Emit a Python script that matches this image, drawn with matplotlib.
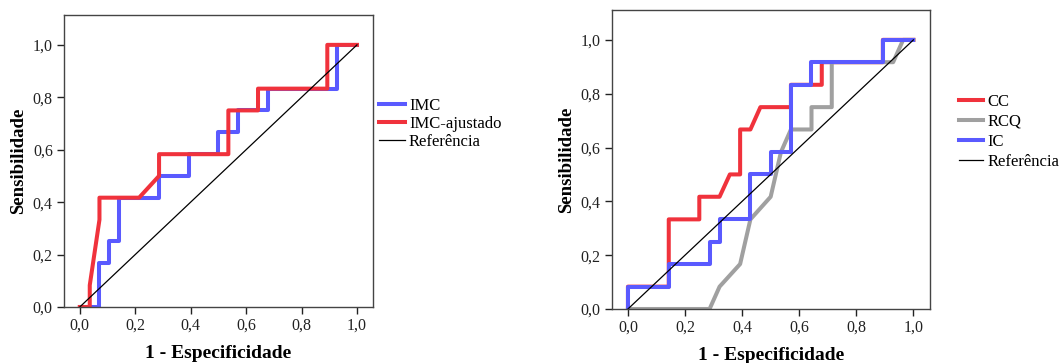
import matplotlib.pyplot as plt
from matplotlib.ticker import FuncFormatter

# painel esquerdo: IMC e IMC-ajustado
imc_x = [0, 0.071, 0.071, 0.107, 0.107, 0.143, 0.143, 0.286, 0.286, 0.393, 0.393,
         0.5, 0.5, 0.571, 0.571, 0.679, 0.679, 0.929, 0.929, 1.0]
imc_y = [0, 0, 0.167, 0.167, 0.25, 0.25, 0.417, 0.417, 0.5, 0.5, 0.583,
         0.583, 0.667, 0.667, 0.75, 0.75, 0.833, 0.833, 1.0, 1.0]
imcaj_x = [0, 0.036, 0.036, 0.071, 0.071, 0.214, 0.286, 0.286, 0.536, 0.536,
           0.643, 0.643, 0.893, 0.893, 1.0]
imcaj_y = [0, 0, 0.083, 0.333, 0.417, 0.417, 0.5, 0.583, 0.583, 0.75,
           0.75, 0.833, 0.833, 1.0, 1.0]

# painel direito: CC, RCQ, IC
cc_x = [0, 0, 0.143, 0.143, 0.25, 0.25, 0.321, 0.357, 0.393, 0.393, 0.429,
        0.464, 0.571, 0.571, 0.679, 0.679, 0.893, 0.893, 1.0]
cc_y = [0, 0.083, 0.083, 0.333, 0.333, 0.417, 0.417, 0.5, 0.5, 0.667, 0.667,
        0.75, 0.75, 0.833, 0.833, 0.917, 0.917, 1.0, 1.0]
rcq_x = [0, 0.286, 0.321, 0.393, 0.429, 0.5, 0.536, 0.571, 0.643, 0.643,
         0.714, 0.714, 0.929, 0.964, 1.0]
rcq_y = [0, 0, 0.083, 0.167, 0.333, 0.417, 0.583, 0.667, 0.667, 0.75,
         0.75, 0.917, 0.917, 1.0, 1.0]
ic_x = [0, 0, 0.143, 0.143, 0.286, 0.286, 0.321, 0.321, 0.429, 0.429, 0.5,
        0.5, 0.571, 0.571, 0.643, 0.643, 0.893, 0.893, 1.0]
ic_y = [0, 0.083, 0.083, 0.167, 0.167, 0.25, 0.25, 0.333, 0.333, 0.5, 0.5,
        0.583, 0.583, 0.833, 0.833, 0.917, 0.917, 1.0, 1.0]

ref_x = [0, 1]
ref_y = [0, 1]
ticks = [0.0, 0.2, 0.4, 0.6, 0.8, 1.0]

RED = '#f0323c'
BLUE = '#5a5aff'
GRAY = '#a0a0a0'
LW = 2.9

plt.rcParams['font.family'] = ['Liberation Serif', 'DejaVu Serif']

fig = plt.figure(figsize=(10.61, 3.63), dpi=100)
ax1 = fig.add_axes([0.0603, 0.1543, 0.2913, 0.8044])
ax2 = fig.add_axes([0.5765, 0.1488, 0.3000, 0.8237])

virgula = FuncFormatter(lambda v, p: ('%.1f' % v).replace('.', ','))


def estilo(ax, ytop):
    ax.set_xlim(-0.057, 1.058)
    ax.set_ylim(0, ytop)
    ax.set_xticks(ticks)
    ax.set_yticks(ticks)
    ax.xaxis.set_major_formatter(virgula)
    ax.yaxis.set_major_formatter(virgula)
    ax.tick_params(direction='out', length=5, width=1, labelsize=11.5,
                   colors='#222222', pad=3)
    for s in ax.spines.values():
        s.set_color('#444444')
        s.set_linewidth(1)
    ax.set_xlabel('1 - Especificidade', fontsize=14, fontweight='bold',
                  labelpad=8)
    ax.set_ylabel('Sensibilidade', fontsize=13.5, fontweight='bold',
                  labelpad=4)


ax1.plot(imc_x, imc_y, color=BLUE, lw=LW, label='IMC')
ax1.plot(imcaj_x, imcaj_y, color=RED, lw=LW, label='IMC-ajustado')
ax1.plot(ref_x, ref_y, color='black', lw=0.9, label='Referência')
estilo(ax1, 1.114)
ax1.legend(loc='upper left', bbox_to_anchor=(1.019, 0.715), frameon=False,
           fontsize=12, handlelength=1.55, handletextpad=0.25,
           labelspacing=0.1, borderaxespad=0, borderpad=0)

ax2.plot(cc_x, cc_y, color=RED, lw=LW, label='CC')
ax2.plot(rcq_x, rcq_y, color=GRAY, lw=LW, label='RCQ')
ax2.plot(ic_x, ic_y, color=BLUE, lw=LW, label='IC')
ax2.plot(ref_x, ref_y, color='black', lw=0.9, label='Referência')
estilo(ax2, 1.111)
ax2.legend(loc='upper left', bbox_to_anchor=(1.091, 0.72), frameon=False,
           fontsize=12, handlelength=1.45, handletextpad=0.25,
           labelspacing=0.25, borderaxespad=0, borderpad=0)

fig.savefig('out.png', dpi=100)
